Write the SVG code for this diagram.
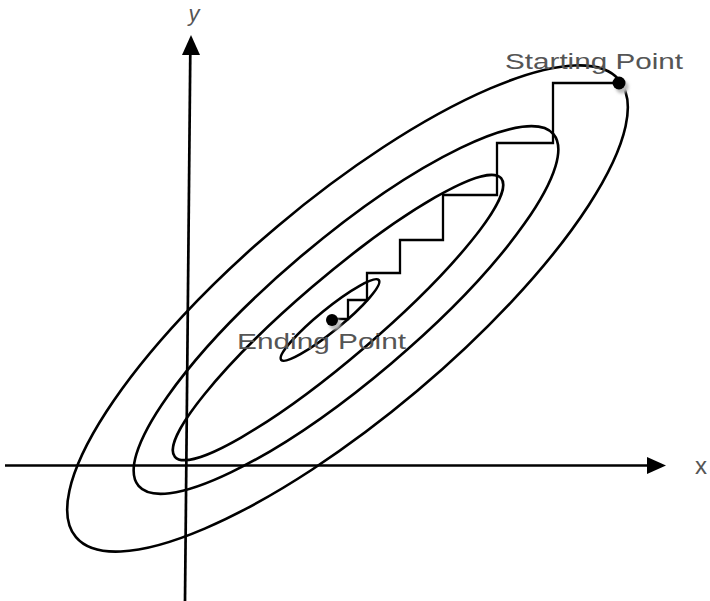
<svg xmlns="http://www.w3.org/2000/svg" width="710" height="601" viewBox="0 0 710 601">
<style>
.axis{stroke:#000;stroke-width:2.7;fill:none}
.contour{stroke:#000;stroke-width:2.6;fill:none}
.path{stroke:#000;stroke-width:2.3;fill:none;stroke-linejoin:miter}
.lbl{font-family:"Liberation Sans",Arial,sans-serif;fill:#555}
</style>
<defs>
<filter id="shadow" x="-50%" y="-50%" width="200%" height="200%">
<feGaussianBlur stdDeviation="1.5"/>
</filter>
</defs>
<rect width="710" height="601" fill="#fff"/>
<g id="contours">
<ellipse class="contour" cx="347.5" cy="308.5" rx="355" ry="108" transform="rotate(-40.1 347.5 308.5)"/>
<ellipse class="contour" cx="346" cy="310" rx="272" ry="70" transform="rotate(-40.3 346 310)"/>
<ellipse class="contour" cx="338" cy="317.5" rx="214.5" ry="40" transform="rotate(-40.5 338 317.5)"/>
<ellipse class="contour" cx="330" cy="320" rx="63" ry="11" transform="rotate(-39.2 330 320)"/>
</g>
<g id="axes">
<line class="axis" x1="5" y1="465.5" x2="650" y2="465.5"/>
<polygon points="647,457 666,465.5 647,474" fill="#000"/>
<line class="axis" x1="185" y1="601" x2="190.3" y2="52"/>
<polygon points="182,55 191,35 200,55" fill="#000"/>
<text class="lbl" x="701" y="474" font-size="24" text-anchor="middle">x</text>
<text class="lbl" x="194" y="21" font-size="22" font-style="italic" text-anchor="middle">y</text>
</g>
<g id="descent-path">
<polyline class="path" points="619,83 553,83 553,143 497,143 497,195 443,195 443,240 400,240 400,273 367,273 367,300 348,300 348,319 332,319"/>
</g>
<g id="start-point">
<circle cx="622" cy="87" r="6.5" fill="#bbb" filter="url(#shadow)"/>
<circle cx="619" cy="83" r="6.5" fill="#000"/>
<text class="lbl" x="505" y="69" font-size="22" textLength="178" lengthAdjust="spacingAndGlyphs">Starting Point</text>
</g>
<g id="end-point">
<circle cx="335" cy="324" r="6" fill="#bbb" filter="url(#shadow)"/>
<circle cx="332" cy="320" r="6" fill="#000"/>
<text class="lbl" x="237" y="349" font-size="22" textLength="169" lengthAdjust="spacingAndGlyphs">Ending Point</text>
</g>
</svg>
